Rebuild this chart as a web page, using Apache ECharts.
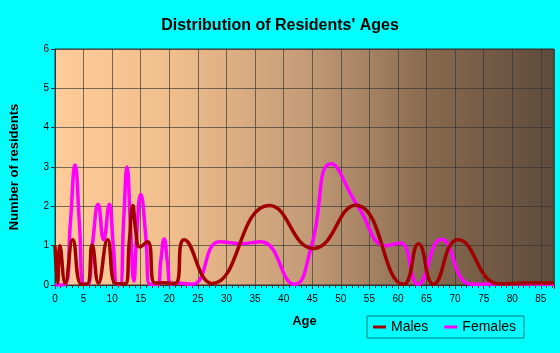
<!DOCTYPE html>
<html>
<head>
<meta charset="utf-8">
<script src="https://cdn.jsdelivr.net/npm/echarts@6/dist/echarts.min.js"></script>
<style>
  html, body { margin: 0; padding: 0; background: #00ffff; }
  #chart { width: 560px; height: 353px; }
</style>
</head>
<body>
<div id="chart"></div>
<script>
// values (age, number of residents)
var maleAges = [0, 0.45, 0.85, 1.8, 3.1, 4.6, 5.6, 6.5, 7.6, 9.2, 10.7, 12.3, 13.0, 13.6, 14.2, 14.8, 16.2, 17.5, 19, 21, 22.6, 27.5, 37.5, 45.2, 52.6, 61, 63.6, 66.2, 70.5, 77.8, 82, 87.3]
var maleCounts = [1.0, 0.05, 1.0, 0.05, 1.15, 0.02, 0.02, 1.02, 0.05, 1.15, 0.03, 0.03, 1.1, 2.02, 1.3, 0.97, 1.1, 0.05, 0.06, 0.04, 1.15, 0.04, 2.02, 0.93, 2.03, 0.02, 1.05, 0.02, 1.15, 0.03, 0.05, 0.05]
var femaleAges = [0, 1.8, 2.7, 3.5, 4.3, 5.0, 5.7, 6.6, 7.55, 8.5, 9.5, 10.2, 10.9, 11.4, 12.0, 12.6, 13.2, 13.8, 14.3, 15.0, 15.9, 16.6, 18.0, 18.5, 19.1, 19.7, 20.3, 21.2, 24.0, 28.8, 32.5, 36.0, 41.9, 44.8, 48.3, 53.0, 58.0, 60.4, 63.5, 67.6, 72.9, 80, 87.3]
var femaleCounts = [0, 0.02, 1.6, 3.05, 1.5, 0.02, 0.02, 1.1, 2.05, 1.15, 2.05, 1.0, 0.02, 0.02, 1.6, 3.0, 1.5, 0.1, 1.3, 2.3, 1.2, 0.02, 0.02, 0.6, 1.17, 0.55, 0.02, 0.05, 0.02, 1.1, 1.05, 1.1, 0.02, 0.95, 3.08, 2.0, 1.0, 1.07, 0.02, 1.16, 0.02, 0.03, 0.02]
var xTicks = [0, 5, 10, 15, 20, 25, 30, 35, 40, 45, 50, 55, 60, 65, 70, 75, 80, 85]

function pairs(xs, ys) {
  var out = []
  xs.map(function (x, i) { out.push([x, ys[i]]) })
  return out
}

var chart = echarts.init(document.getElementById('chart'))
var font = 'Liberation Sans, Arial, sans-serif'

var option = {
  backgroundColor: '#00ffff',
  animation: false,
  title: {
    text: "Distribution of Residents' Ages",
    left: 'center',
    top: 13,
    textStyle: { fontFamily: font, fontSize: 16, fontWeight: 'bold', color: '#000' }
  },
  legend: {
    data: ['Males', 'Females'],
    left: 367,
    top: 316,
    orient: 'horizontal',
    icon: 'rect',
    itemWidth: 13,
    itemHeight: 3,
    itemGap: 16,
    padding: [4, 8, 4, 6],
    borderColor: '#0b7b7b',
    borderWidth: 1,
    textStyle: { fontFamily: font, fontSize: 14, color: '#000' }
  },
  grid: {
    left: 54, right: 6, top: 49, bottom: 68,
    show: true,
    borderColor: '#333',
    borderWidth: 1,
    backgroundColor: new echarts.graphic.LinearGradient(0, 0, 1, 0, [
      { offset: 0, color: '#ffcc99' },
      { offset: 0.25, color: '#efbc8c' },
      { offset: 0.5, color: '#c49c77' },
      { offset: 0.75, color: '#88694f' },
      { offset: 1, color: '#5e4b3b' }
    ])
  },
  xAxis: {
    type: 'value',
    min: 0,
    max: 87.3,
    interval: 5,
    name: 'Age',
    nameLocation: 'middle',
    nameGap: 30,
    nameTextStyle: { fontFamily: font, fontSize: 13, fontWeight: 'bold', color: '#000' },
    axisLine: { show: true, lineStyle: { color: '#333' } },
    axisTick: { show: true, length: 4, lineStyle: { color: '#333' } },
    minorTick: { show: true, splitNumber: 5, length: 3, lineStyle: { color: '#333' } },
    axisLabel: {
      fontFamily: font, fontSize: 10, color: '#000', margin: 9, showMaxLabel: false,
      formatter: function (v) { return xTicks.indexOf(v) >= 0 ? String(v) : '' }
    },
    splitLine: { show: true, lineStyle: { color: 'rgba(50,50,50,0.65)', width: 1 } }
  },
  yAxis: {
    type: 'value',
    min: 0,
    max: 6,
    interval: 1,
    name: 'Number of residents',
    nameLocation: 'middle',
    nameGap: 34,
    nameTextStyle: { fontFamily: font, fontSize: 13, fontWeight: 'bold', color: '#000' },
    axisLine: { show: true, lineStyle: { color: '#333' } },
    axisTick: { show: true, length: 4, lineStyle: { color: '#333' } },
    axisLabel: { fontFamily: font, fontSize: 10, color: '#000', margin: 6 },
    splitLine: { show: true, lineStyle: { color: 'rgba(50,50,50,0.65)', width: 1 } }
  },
  series: [
    {
      name: 'Females',
      type: 'line',
      smooth: 0.5,
      symbol: 'none',
      z: 2,
      data: pairs(femaleAges, femaleCounts),
      itemStyle: { color: '#ff00ff' },
      lineStyle: { color: '#ff00ff', width: 3.5 }
    },
    {
      name: 'Males',
      type: 'line',
      smooth: 0.5,
      symbol: 'none',
      z: 3,
      data: pairs(maleAges, maleCounts),
      itemStyle: { color: '#a00000' },
      lineStyle: { color: '#a00000', width: 3.5 }
    }
  ]
}
chart.setOption(option)
</script>
</body>
</html>
